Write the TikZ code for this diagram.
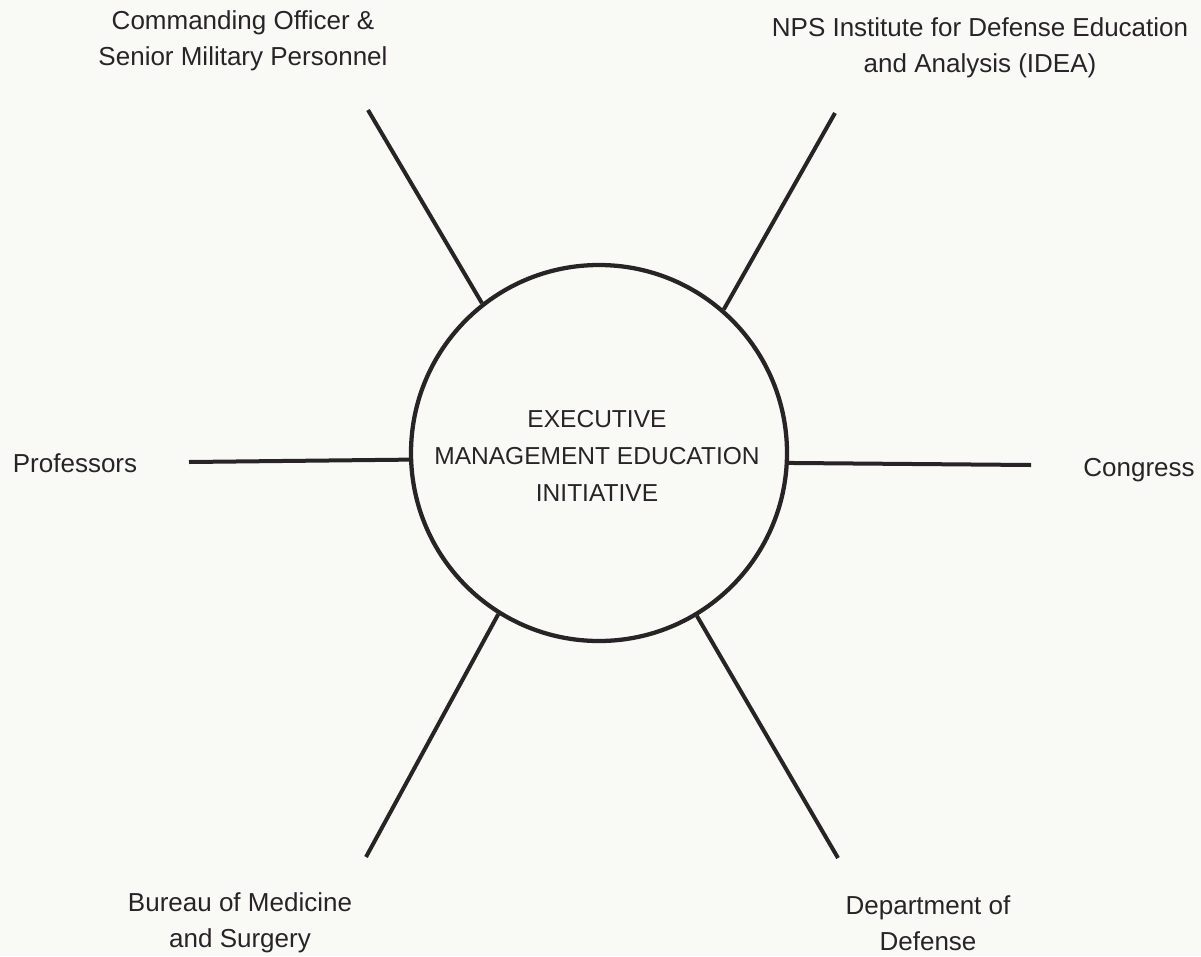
\documentclass[tikz,border=0pt]{standalone}
\usepackage{fontspec}
\setmainfont{Liberation Sans}
\definecolor{ink}{RGB}{40,36,37}
\definecolor{paper}{RGB}{249,250,245}
\begin{document}
\begin{tikzpicture}[x=0.75pt,y=-0.75pt,
  lbl/.style={font=\fontsize{19.5}{27}\selectfont, text=ink, align=center, inner sep=0pt, anchor=base},
  spoke/.style={draw=ink, line width=3pt},
  hub/.style={circle, draw=ink, line width=3.2pt, minimum size=282pt, inner sep=0pt}]
\fill[paper] (0,0) rectangle (1201,956);
\useasboundingbox (0,0) rectangle (1201,956);
\node[hub] (c) at (599,453) {};
\node[font=\fontsize{18.4}{27.4}\selectfont, text=ink, align=center, inner sep=0pt, anchor=base] (t) at (597,501) {EXECUTIVE\\MANAGEMENT EDUCATION\\INITIATIVE};
% labels (anchor = baseline of last line)
\node[lbl] (co) at (243,65) {Commanding Officer \&\\Senior Military Personnel};
\node[lbl] (nps) at (980,72) {NPS Institute for Defense Education\\and Analysis (IDEA)};
\node[lbl] (prof) at (75,472) {Professors};
\node[lbl] (cong) at (1139,476) {Congress};
\node[lbl] (bu) at (240,947) {Bureau of Medicine\\and Surgery};
\node[lbl] (dod) at (928,950) {Department of\\Defense};
% spoke ends
\coordinate (eUL) at (368,110);
\coordinate (eUR) at (835,113);
\coordinate (eL) at (189,462);
\coordinate (eR) at (1031,465);
\coordinate (eLL) at (366,857);
\coordinate (eLR) at (838,858);
\draw[spoke] (eUL) -- (c.128.2);
\draw[spoke] (eUR) -- (c.49.5);
\draw[spoke] (eL) -- (c.182.7);
\draw[spoke] (eR) -- (c.-3.6);
\draw[spoke] (eLL) -- (c.238);
\draw[spoke] (eLR) -- (c.301.5);
\end{tikzpicture}
\end{document}
